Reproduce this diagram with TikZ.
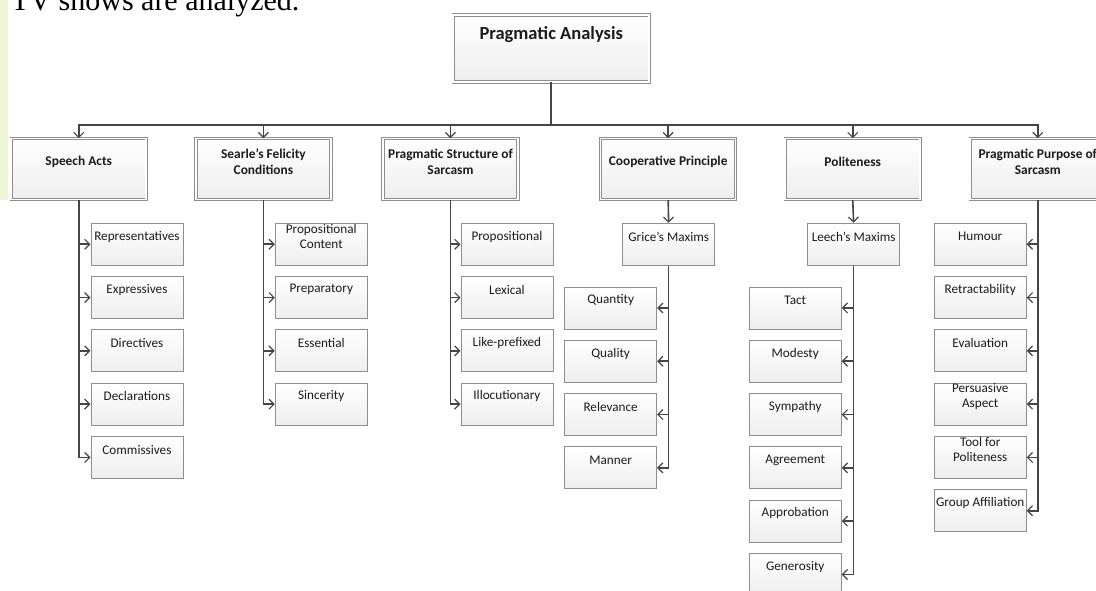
\documentclass[tikz,border=0pt]{standalone}
\usepackage{fontspec}
\setmainfont{Carlito}
\newfontfamily\docfont{Liberation Serif}
\usetikzlibrary{arrows.meta}
\definecolor{conncol}{HTML}{454545}
\definecolor{bordcol}{HTML}{8E8E8E}
\definecolor{txtcol}{HTML}{1C1C1C}
\definecolor{stripcol}{HTML}{EDF7D6}
% box content: width, height, bottom padding, text
\newcommand{\bxt}[4]{\vbox to #2{\hsize=#1\parindent=0pt\vss\centering #4\par\vss\vskip #3\relax}}
\tikzset{
  conn/.style={draw=conncol, line width=1.6pt, -{Straight Barb[length=5pt,width=10pt,line width=1.2pt]}},
  basebox/.style={rectangle, inner sep=0pt, anchor=north west, text=txtcol, top color=white, bottom color=black!7},
  topbox/.style={basebox, draw=bordcol, double=white, double distance=1.6pt, line width=0.9pt,
     font=\fontsize{18.5}{21}\selectfont\bfseries},
  lonebox/.style={basebox, draw=bordcol, double=white, double distance=1.6pt, line width=0.9pt,
     font=\fontsize{13.4}{15.6}\selectfont\bfseries},
  leafbox/.style={basebox, draw=bordcol, line width=0.9pt, font=\fontsize{13.2}{14.7}\selectfont},
}
\newcommand{\topc}[1]{\bxt{196pt}{67pt}{27pt}{#1}}
\newcommand{\onec}[1]{\bxt{135pt}{61pt}{15pt}{#1}}
\newcommand{\leafc}[1]{\bxt{92pt}{42pt}{15.5pt}{#1}}
\begin{document}
\begin{tikzpicture}[x=1pt, y=-1pt]
\useasboundingbox (0,0) rectangle (1096,590);
\clip (0,0) rectangle (1096,590);
\fill[white] (0,0) rectangle (1096,590);
\fill[stripcol] (0,0) rectangle (8,200);
% cropped line of running text
\node[anchor=base west, inner sep=0pt, font=\docfont\fontsize{30}{30}\selectfont] (doc) at (11,10) {TV shows are analyzed.};
% root
\node[topbox] (pa) at (452.8,14.5) {\topc{Pragmatic Analysis}};
% level 1
\node[lonebox] (sa) at (10.8,138.2) {\onec{Speech Acts}};
\node[lonebox] (sf) at (195.5,138.2) {\onec{Searle’s Felicity\\Conditions}};
\node[lonebox] (ps) at (382.5,138.2) {\onec{Pragmatic Structure of\\Sarcasm}};
\node[lonebox] (cp) at (600.2,138.2) {\onec{Cooperative Principle}};
\node[lonebox] (po) at (784.8,138.2) {\onec{Politeness}};
\node[lonebox] (pp) at (969.8,138.2) {\onec{Pragmatic Purpose of\\Sarcasm}};
\coordinate (bus) at (pa.south |- 0,125);
\foreach \n in {sa,sf,ps,cp,po,pp}{\draw[conn] (pa.south) -- (bus) -| (\n.north);}
% Speech Acts
\node[leafbox] (sa1) at (90.5,222.8) {\leafc{Representatives}};
\node[leafbox] (sa2) at (90.5,276.1) {\leafc{Expressives}};
\node[leafbox] (sa3) at (90.5,329.4) {\leafc{Directives}};
\node[leafbox] (sa4) at (90.5,382.7) {\leafc{Declarations}};
\node[leafbox] (sa5) at (90.5,436.0) {\leafc{Commissives}};
\foreach \n in {sa1,sa2,sa3,sa4,sa5}{\draw[conn] (sa.south) |- (\n.west);}
% Searle
\node[leafbox] (sf1) at (274.8,222.8) {\leafc{Propositional\\Content}};
\node[leafbox] (sf2) at (274.8,276.1) {\leafc{Preparatory}};
\node[leafbox] (sf3) at (274.8,329.4) {\leafc{Essential}};
\node[leafbox] (sf4) at (274.8,382.7) {\leafc{Sincerity}};
\foreach \n in {sf1,sf2,sf3,sf4}{\draw[conn] (sf.south) |- (\n.west);}
% Pragmatic Structure
\node[leafbox] (ps1) at (460.5,222.8) {\leafc{Propositional}};
\node[leafbox] (ps2) at (460.5,276.1) {\leafc{Lexical}};
\node[leafbox] (ps3) at (460.5,329.4) {\leafc{Like-prefixed}};
\node[leafbox] (ps4) at (460.5,382.7) {\leafc{Illocutionary}};
\foreach \n in {ps1,ps2,ps3,ps4}{\draw[conn] (ps.south) |- (\n.west);}
% Cooperative Principle
\node[leafbox] (gm) at (622.2,222.8) {\leafc{Grice’s Maxims}};
\draw[conn] (cp.south) -- (gm.north);
\node[leafbox] (cp1) at (564.2,286.5) {\leafc{Quantity}};
\node[leafbox] (cp2) at (564.2,339.8) {\leafc{Quality}};
\node[leafbox] (cp3) at (564.2,393.1) {\leafc{Relevance}};
\node[leafbox] (cp4) at (564.2,446.4) {\leafc{Manner}};
\foreach \n in {cp1,cp2,cp3,cp4}{\draw[conn] (gm.south) |- (\n.east);}
% Politeness
\node[leafbox] (lm) at (807.2,222.8) {\leafc{Leech’s Maxims}};
\draw[conn] (po.south) -- (lm.north);
\node[leafbox] (po1) at (748.8,286.5) {\leafc{Tact}};
\node[leafbox] (po2) at (748.8,339.8) {\leafc{Modesty}};
\node[leafbox] (po3) at (748.8,393.1) {\leafc{Sympathy}};
\node[leafbox] (po4) at (748.8,446.4) {\leafc{Agreement}};
\node[leafbox] (po5) at (748.8,499.7) {\leafc{Approbation}};
\node[leafbox] (po6) at (748.8,553.0) {\leafc{Generosity}};
\foreach \n in {po1,po2,po3,po4,po5,po6}{\draw[conn] (lm.south) |- (\n.east);}
% Pragmatic Purpose
\node[leafbox] (pp1) at (933.8,222.8) {\leafc{Humour}};
\node[leafbox] (pp2) at (933.8,276.1) {\leafc{Retractability}};
\node[leafbox] (pp3) at (933.8,329.4) {\leafc{Evaluation}};
\node[leafbox] (pp4) at (933.8,382.7) {\leafc{Persuasive\\Aspect}};
\node[leafbox] (pp5) at (933.8,436.0) {\leafc{Tool for\\Politeness}};
\node[leafbox] (pp6) at (933.8,489.3) {\leafc{Group Affiliation}};
\foreach \n in {pp1,pp2,pp3,pp4,pp5,pp6}{\draw[conn] (pp.south) |- (\n.east);}
\end{tikzpicture}
\end{document}
